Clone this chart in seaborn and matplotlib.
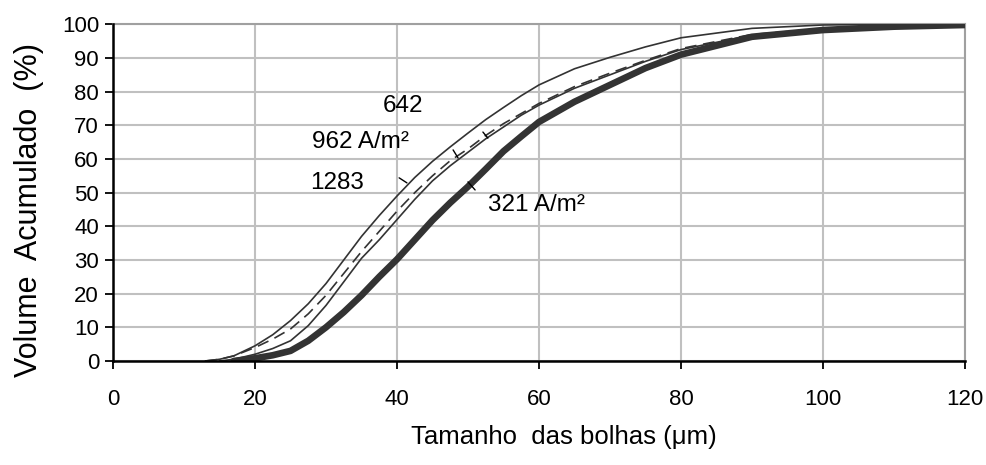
import matplotlib
matplotlib.use("Agg")
import matplotlib.pyplot as plt
import seaborn as sns
import pandas as pd
import numpy as np

sns.set_theme(style="white")
plt.rcParams['font.family'] = ['Liberation Sans', 'DejaVu Sans']

nan = np.nan
# bubble size (um)
x_um = [13, 15, 17, 20, 22.5, 25, 27.5, 30, 32.5, 35, 37.5, 40, 42.5, 45, 47.5, 50,
        52.5, 55, 57.5, 60, 65, 70, 75, 80, 90, 100, 110, 120]
# cumulative volume (%) for each current density (A/m2)
v_1283 = [0, 0.5, 1.5, 4.5, 7.8, 12, 17, 23, 30, 37, 43.2, 49, 54.5, 59.3, 63.6, 67.7,
          71.7, 75.3, 78.8, 82, 86.8, 90.2, 93.3, 96, 98.8, 99.8, 100, 100]
v_962 = [0, 0.5, 1.5, 4, 6.5, 9.5, 14, 19.5, 26, 32.5, 38.5, 44.5, 50, 55, 59.5, 63,
         67, 70.5, 73.5, 76.5, 81.5, 85.5, 89.3, 92.8, 97, 98.7, 99.5, 100]
v_642 = [nan, 0, 0.5, 2, 3.7, 6, 10.5, 16.5, 23.5, 30.5, 36, 42, 48, 53.5, 58, 62,
         66, 69.5, 73, 76, 81, 85, 89, 92.5, 96.8, 98.5, 99.5, 100]
v_321 = [nan, nan, 0, 0.8, 1.7, 3, 6, 10, 14.5, 19.5, 25, 30.2, 36, 41.8, 47, 51.8,
         57, 62.3, 66.7, 71, 77, 82, 87, 91, 96.3, 98.3, 99.3, 99.8]

series = ["1283", "962", "642", "321"]
values = [v_1283, v_962, v_642, v_321]

labels = ["642", "962 A/m²", "1283", "321 A/m²"]
label_x = [40.9, 28.0, 27.7, 52.8]
label_y = [75.6, 64.9, 53.0, 46.3]
label_ha = ["center", "left", "left", "left"]

x_ticks = [0, 20, 40, 60, 80, 100, 120]
y_ticks = [0, 10, 20, 30, 40, 50, 60, 70, 80, 90, 100]

color = "#333333"
widths = {"1283": 1.2, "962": 1.2, "642": 1.2, "321": 4.8}

fig = plt.figure(figsize=(9.87, 4.65), dpi=100)
ax = fig.add_axes([0.1145, 0.2237, 0.8632, 0.724])

for name, vals in zip(series, values):
    df = pd.DataFrame({"x": x_um, "y": vals}).dropna()
    sns.lineplot(data=df, x="x", y="y", ax=ax, color=color, linewidth=widths[name],
                 estimator=None, sort=False, zorder=3)
    ax.lines[-1].set_solid_joinstyle("round")
    if name == "962":
        ax.lines[-1].set_dashes([7, 4])

# leader ticks of the data labels
leaders = [((40.3, 54.4), (41.4, 52.9)), ((47.9, 62.7), (48.6, 60.3)),
           ((52.1, 68.0), (52.8, 66.2)), ((50.0, 53.2), (51.0, 50.8))]
for (x0, y0), (x1, y1) in leaders:
    ax.plot([x0, x1], [y0, y1], color="black", linewidth=1.0, zorder=4)

for t, lx, ly, ha in zip(labels, label_x, label_y, label_ha):
    ax.text(lx, ly, t, ha=ha, va="center", fontsize=17.5, color="black")

ax.set_xlim(0, 120)
ax.set_ylim(0, 100)
ax.set_xticks(x_ticks)
ax.set_yticks(y_ticks)
ax.set_xticklabels([str(v) for v in x_ticks], fontsize=16)
ax.set_yticklabels([str(v) for v in y_ticks], fontsize=16)
ax.grid(True, color="#c0c0c0", linewidth=1.5)
ax.set_axisbelow(True)

for s in ["top", "right"]:
    ax.spines[s].set_color("#a0a0a0")
    ax.spines[s].set_linewidth(1.5)
for s in ["left", "bottom"]:
    ax.spines[s].set_color("black")
    ax.spines[s].set_linewidth(1.8)
    ax.spines[s].set_zorder(5)

ax.tick_params(axis="both", direction="out", length=6, width=1.3, color="black",
               bottom=True, left=True, labelcolor="black")
ax.tick_params(axis="x", pad=14)
ax.tick_params(axis="y", pad=4)

ax.set_xlabel("Tamanho  das bolhas (μm)", fontsize=18.5, color="black")
ax.set_ylabel("Volume  Acumulado  (%)", fontsize=22, color="black")
ax.xaxis.set_label_coords(0.529, -0.19)
ax.yaxis.set_label_coords(-0.081, 0.448)

fig.savefig("out.png", dpi=100)
